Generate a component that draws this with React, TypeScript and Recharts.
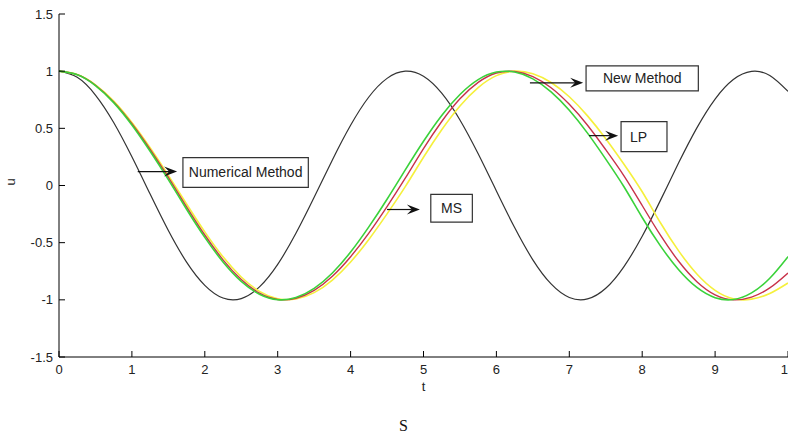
import { LineChart, Line, XAxis, YAxis, ReferenceArea, ReferenceLine, Label } from 'recharts'

// sample times (t)
const tValues = [
  0, 0.25, 0.5, 0.75, 1, 1.25, 1.5, 1.75, 2, 2.25, 2.5, 2.75, 3, 3.25, 3.5, 3.75, 4, 4.25, 4.5, 4.75,
  5, 5.25, 5.5, 5.75, 6, 6.25, 6.5, 6.75, 7, 7.25, 7.5, 7.75, 8, 8.25, 8.5, 8.75, 9, 9.25, 9.5, 9.75, 10,
]

// Numerical Method (black)
const numerical = [
  1.0, 0.946, 0.791, 0.551, 0.251, -0.075, -0.394, -0.67, -0.873, -0.984, -0.989, -0.887, -0.69, -0.418, -0.103, 0.224,
  0.527, 0.774, 0.937, 1.0, 0.955, 0.807, 0.573, 0.277, -0.048, -0.368, -0.65, -0.861, -0.979, -0.992, -0.899, -0.709,
  -0.444, -0.13, 0.198, 0.504, 0.756, 0.927, 0.998, 0.962, 0.823,
]

// MS (green)
const ms = [
  1.0, 0.968, 0.874, 0.725, 0.529, 0.299, 0.051, -0.208, -0.454, -0.669, -0.839, -0.951, -0.999, -0.98, -0.9, -0.765,
  -0.582, -0.362, -0.12, 0.136, 0.387, 0.613, 0.796, 0.926, 0.992, 0.992, 0.933, 0.819, 0.658, 0.458, 0.231, -0.011,
  -0.28, -0.528, -0.737, -0.892, -0.981, -0.997, -0.939, -0.811, -0.622,
]

// New Method (red)
const newMethod = [
  1.0, 0.969, 0.877, 0.731, 0.54, 0.315, 0.07, -0.186, -0.433, -0.65, -0.823, -0.942, -0.997, -0.986, -0.917, -0.794,
  -0.623, -0.416, -0.184, 0.064, 0.323, 0.56, 0.758, 0.902, 0.984, 0.997, 0.952, 0.855, 0.71, 0.527, 0.313, 0.085,
  -0.175, -0.435, -0.663, -0.841, -0.956, -1.0, -0.976, -0.896, -0.765,
]

// LP (yellow)
const lp = [
  1.0, 0.97, 0.88, 0.738, 0.551, 0.33, 0.089, -0.162, -0.406, -0.624, -0.8, -0.926, -0.991, -0.993, -0.937, -0.827,
  -0.669, -0.472, -0.248, -0.01, 0.247, 0.488, 0.696, 0.857, 0.961, 1.0, 0.977, 0.901, 0.776, 0.609, 0.409, 0.186,
  -0.055, -0.326, -0.572, -0.774, -0.917, -0.991, -0.994, -0.945, -0.853,
]

const xTicks = [0, 1, 2, 3, 4, 5, 6, 7, 8, 9, 10]
const yTicks = [-1.5, -1, -0.5, 0, 0.5, 1, 1.5]

// annotation boxes and arrows, in data units
const boxes = [
  { text: 'Numerical Method', x1: 1.7, x2: 3.42, y1: -0.017, y2: 0.244, pos: 'center' },
  { text: 'MS', x1: 5.1, x2: 5.67, y1: -0.32, y2: -0.078, pos: 'center' },
  { text: 'New Method', x1: 7.23, x2: 8.77, y1: 0.828, y2: 1.046, pos: 'center' },
  { text: 'LP', x1: 7.71, x2: 8.34, y1: 0.296, y2: 0.558, pos: 'insideLeft' },
]
const arrows = [
  { from: 1.08, to: 1.62, y: 0.122 },
  { from: 4.5, to: 4.95, y: -0.21 },
  { from: 6.46, to: 7.19, y: 0.898 },
  { from: 7.27, to: 7.67, y: 0.436 },
]

const data = tValues.map((t, i) => ({
  t,
  numerical: numerical[i],
  ms: ms[i],
  newMethod: newMethod[i],
  lp: lp[i],
}))

const FONT = '"Liberation Sans", Arial, Helvetica, sans-serif'

const XTick = ({ x, y, payload }: any) => (
  <g>
    <line x1={x} y1={y} x2={x} y2={y - 6} stroke="#000" />
    <text x={x} y={y + 17} textAnchor="middle" fontSize={13} fontFamily={FONT} fill="#222">
      {payload.value}
    </text>
  </g>
)

const YTick = ({ x, y, payload }: any) => (
  <g>
    <line x1={x} y1={y} x2={x + 6} y2={y} stroke="#000" />
    <text x={x - 6} y={y + 4.5} textAnchor="end" fontSize={13} fontFamily={FONT} fill="#222">
      {payload.value}
    </text>
  </g>
)

const Arrow = (props: any) => {
  const { x1, y1, x2, y2 } = props
  return (
    <g>
      <line x1={x1} y1={y1} x2={x2 - 8} y2={y2} stroke="#111" strokeWidth={1.2} />
      <polygon
        points={`${x2},${y2} ${x2 - 13},${y2 - 5} ${x2 - 8},${y2} ${x2 - 13},${y2 + 5}`}
        fill="#111"
      />
    </g>
  )
}

export default function App() {
  return (
    <div style={{ position: 'absolute', left: 0, top: 0, width: 788, height: 436, overflow: 'hidden', background: '#fff' }}>
      <LineChart width={800} height={436} data={data} margin={{ top: 14, right: 12, bottom: 39, left: 0 }}>
        <XAxis
          dataKey="t"
          type="number"
          domain={[0, 10]}
          ticks={xTicks}
          height={40}
          tickSize={0}
          tickMargin={0}
          tick={<XTick />}
          axisLine={{ stroke: '#000' }}
          interval={0}
        >
          <Label value="t" position="insideBottom" offset={6} fontSize={13} fontFamily={FONT} fill="#222" />
        </XAxis>
        <YAxis
          type="number"
          domain={[-1.5, 1.5]}
          ticks={yTicks}
          width={59}
          tickSize={0}
          tickMargin={0}
          tick={<YTick />}
          axisLine={{ stroke: '#000' }}
          interval={0}
        >
          <Label value="u" position="insideLeft" angle={-90} offset={10} fontSize={13} fontFamily={FONT} fill="#222" />
        </YAxis>
        <Line dataKey="numerical" type="natural" stroke="#333" strokeWidth={1.2} dot={false} isAnimationActive={false} />
        <Line dataKey="lp" type="natural" stroke="#f5f03c" strokeWidth={1.6} dot={false} isAnimationActive={false} />
        <Line dataKey="newMethod" type="natural" stroke="#c8324a" strokeWidth={1.4} dot={false} isAnimationActive={false} />
        <Line dataKey="ms" type="natural" stroke="#3ad23a" strokeWidth={1.6} dot={false} isAnimationActive={false} />
        {boxes.map((b) => (
          <ReferenceArea
            key={b.text}
            x1={b.x1}
            x2={b.x2}
            y1={b.y1}
            y2={b.y2}
            fill="#fff"
            fillOpacity={1}
            stroke="#333"
            strokeWidth={1.2}
            label={{ value: b.text, position: b.pos as any, offset: 9, fontSize: 14, fontFamily: FONT, fill: '#222' }}
          />
        ))}
        {arrows.map((a, i) => (
          <ReferenceLine
            key={i}
            segment={[
              { x: a.from, y: a.y },
              { x: a.to, y: a.y },
            ]}
            shape={<Arrow />}
          />
        ))}
      </LineChart>
      <div
        style={{
          position: 'absolute',
          left: 399,
          top: 417,
          fontFamily: '"Liberation Serif", "Times New Roman", serif',
          fontSize: 16,
          color: '#111',
        }}
      >
        S
      </div>
    </div>
  )
}
